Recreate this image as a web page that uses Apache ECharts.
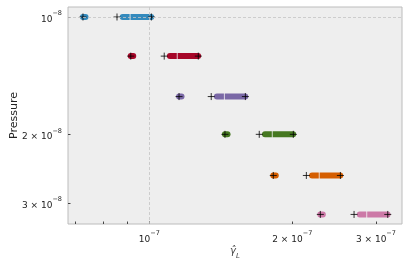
<!DOCTYPE html>
<html><head><meta charset="utf-8">
<script src="https://cdn.jsdelivr.net/npm/echarts@6/dist/echarts.min.js"></script>
<style>html,body{margin:0;padding:0;background:#fff}#c{width:409px;height:267px}</style>
</head><body><div id="c"></div><script>
// pressure levels (y)
const pressure = [1.00e-8, 1.26e-8, 1.60e-8, 2.00e-8, 2.55e-8, 3.21e-8];
// black "+" markers (x): single estimate, lower and upper
const plusDot = [0.725e-7, 0.914e-7, 1.155e-7, 1.443e-7, 1.824e-7, 2.291e-7];
const plusLo  = [0.855e-7, 1.075e-7, 1.350e-7, 1.704e-7, 2.141e-7, 2.698e-7];
const plusHi  = [1.010e-7, 1.268e-7, 1.593e-7, 2.010e-7, 2.525e-7, 3.177e-7];
// coloured estimate ranges (x)
const dotLo  = [0.725e-7, 0.914e-7, 1.155e-7, 1.443e-7, 1.824e-7, 2.291e-7];
const dotHi  = [0.734e-7, 0.925e-7, 1.169e-7, 1.461e-7, 1.846e-7, 2.319e-7];
const spanLo = [0.879e-7, 1.105e-7, 1.388e-7, 1.752e-7, 2.201e-7, 2.774e-7];
const spanHi = [1.009e-7, 1.267e-7, 1.592e-7, 2.008e-7, 2.523e-7, 3.174e-7];
const spanGap = [0.911e-7, 1.145e-7, 1.439e-7, 1.815e-7, 2.279e-7, 2.869e-7];
// ticks
const xTickMant = [1, 2, 3];
const xTickExp = -7;
const xMinorMant = [7, 8, 9];
const xMinorExp = -8;
const yTickMant = [1, 2, 3];
const yTickExp = -8;
const xName = 'γ̂';
const xNameSub = 'L';
const yName = 'Pressure';

const L = Math.log10;
const colors = ['#348ABD', '#A60628', '#7A68A6', '#467821', '#D55E00', '#CC79A7'];
const xTicks = xTickMant.map(m => m * Math.pow(10, xTickExp));
const xMinor = xMinorMant.map(m => m * Math.pow(10, xMinorExp));
const yTicks = yTickMant.map(m => m * Math.pow(10, yTickExp));

function fmt(mants, exp, vals) {
  return function (v) {
    let best = 0, bd = 1e9;
    vals.forEach((t, i) => { const d = Math.abs(L(t) - v); if (d < bd) { bd = d; best = i; } });
    const m = mants[best];
    const e = String(exp).replace('-', '\u2212');
    return (m === 1 ? '{b|10}' : '{b|' + m + ' \u00d7 10}') + '{s|' + e + '}';
  };
}
const rich = {
  b: { fontFamily: 'DejaVu Sans', fontSize: 9, color: '#222', lineHeight: 14, verticalAlign: 'bottom' },
  s: { fontFamily: 'DejaVu Sans', fontSize: 6.5, color: '#222', lineHeight: 8, verticalAlign: 'top' }
};

const series = [];
series.push({
  type: 'line', data: [], z: 1, silent: true,
  markLine: {
    silent: true, symbol: 'none', label: { show: false }, animation: false,
    lineStyle: { type: [3, 2], color: '#c4c4c4', width: 0.8 },
    data: [{ xAxis: L(xTicks[0]) }, { yAxis: L(yTicks[0]) }]
  }
});
pressure.forEach((p, i) => {
  series.push({
    type: 'line', z: 2, symbol: 'none', silent: true,
    data: [[L(spanLo[i]), L(p)], [L(spanHi[i]), L(p)]],
    lineStyle: { color: colors[i], width: 6, cap: 'round' }
  });
  series.push({
    type: 'line', z: 2, symbol: 'none', silent: true,
    data: [[L(dotLo[i]), L(p)], [L(dotHi[i]), L(p)]],
    lineStyle: { color: colors[i], width: 6, cap: 'round' }
  });
  series.push({
    type: 'scatter', z: 3, silent: true,
    data: [[L(spanGap[i]), L(p)]],
    symbol: 'rect', symbolSize: [1, 7],
    itemStyle: { color: '#f4f4f4' }
  });
});
const plusData = [];
pressure.forEach((p, i) => {
  plusData.push([L(plusDot[i]), L(p)], [L(plusLo[i]), L(p)], [L(plusHi[i]), L(p)]);
});
series.push({
  type: 'scatter', z: 4, silent: true, data: plusData,
  symbol: 'path://M0,5H10M5,0V10', symbolSize: 7,
  itemStyle: { color: 'rgba(0,0,0,0)', borderColor: '#000', borderWidth: 1 }
});

const chart = echarts.init(document.getElementById('c'), null, { renderer: 'canvas' });
chart.setOption({
  animation: false,
  backgroundColor: '#ffffff',
  grid: { left: 68, top: 7, width: 334, height: 217, show: true, containLabel: false, outerBoundsMode: 'none', backgroundColor: '#eeeeee', borderColor: '#bcbcbc', borderWidth: 1 },
  xAxis: {
    type: 'value', min: -7.1712, max: -6.468,
    axisLine: { show: false },
    splitLine: { show: false },
    axisTick: { show: true, inside: true, length: 2.5, lineStyle: { color: '#444' }, customValues: xMinor.concat(xTicks).map(L) },
    axisLabel: { customValues: xTicks.map(L), formatter: fmt(xTickMant, xTickExp, xTicks), rich: rich, margin: 6 },
    name: '{g|' + xName + '}{l|' + xNameSub + '}', nameLocation: 'middle', nameGap: 22, nameMoveOverlap: false,
    nameTextStyle: { rich: {
      g: { fontFamily: 'DejaVu Sans', fontStyle: 'italic', fontSize: 10, color: '#444', lineHeight: 14, verticalAlign: 'top' },
      l: { fontFamily: 'DejaVu Sans', fontStyle: 'italic', fontSize: 7, color: '#444', lineHeight: 8, verticalAlign: 'bottom' }
    } }
  },
  yAxis: {
    type: 'value', inverse: true, min: -8.02565, max: -7.46896,
    axisLine: { show: false },
    splitLine: { show: false },
    axisTick: { show: true, inside: true, length: 2.5, lineStyle: { color: '#444' }, customValues: yTicks.map(L) },
    axisLabel: { customValues: yTicks.map(L), formatter: fmt(yTickMant, yTickExp, yTicks), rich: rich, margin: 6 },
    name: yName, nameLocation: 'middle', nameGap: 54, nameRotate: 90, nameMoveOverlap: false,
    nameTextStyle: { fontFamily: 'DejaVu Sans', fontSize: 11, color: '#222', verticalAlign: 'middle' }
  },
  series: series
});
</script></body></html>
